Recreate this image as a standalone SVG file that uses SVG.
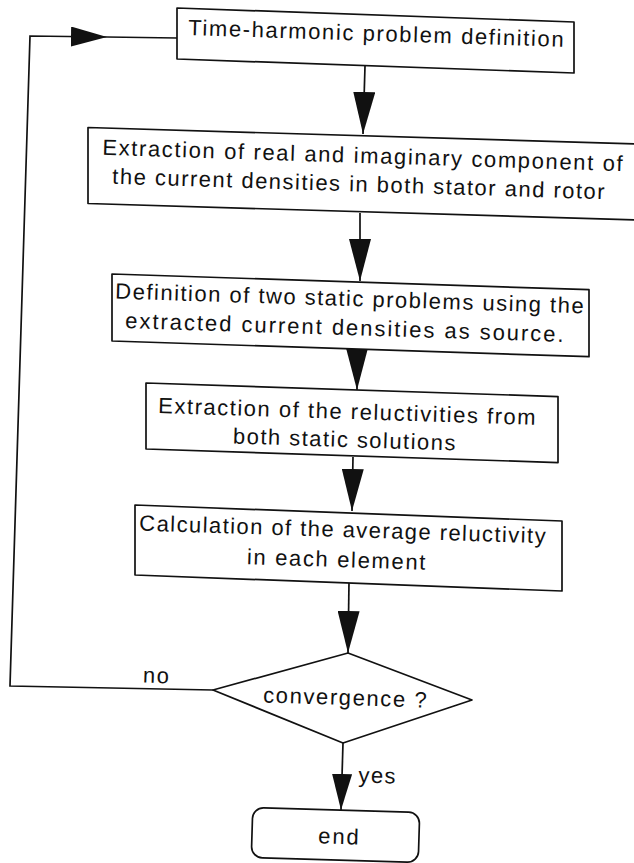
<svg xmlns="http://www.w3.org/2000/svg" width="634" height="863" viewBox="0 0 634 863">
<style>
.box{fill:#fff;stroke:#111;stroke-width:1.7;stroke-linejoin:round}
.ln{fill:none;stroke:#111;stroke-width:1.7}
.t{font-family:"Liberation Sans",Arial,Helvetica,sans-serif;font-size:22px;fill:#111;text-anchor:middle;letter-spacing:1.5px}
</style>
<defs>
<marker id="ah" markerUnits="userSpaceOnUse" markerWidth="42" markerHeight="22" refX="42" refY="11" orient="auto"><path d="M0,0 L42,11 L0,22 z" fill="#111"/></marker>
<marker id="ahs" markerUnits="userSpaceOnUse" markerWidth="36" markerHeight="20" refX="36" refY="10" orient="auto"><path d="M0,0 L36,10 L0,20 z" fill="#111"/></marker>
</defs>
<rect width="634" height="863" fill="#fff"/>
<g id="connectors">
<line class="ln" x1="365" y1="66" x2="363" y2="134" marker-end="url(#ah)"/>
<line class="ln" x1="360" y1="213" x2="360" y2="281" marker-end="url(#ah)"/>
<line class="ln" x1="357" y1="350" x2="357" y2="390" marker-end="url(#ah)"/>
<line class="ln" x1="353" y1="457" x2="352" y2="511" marker-end="url(#ah)"/>
<line class="ln" x1="349" y1="582" x2="348" y2="653" marker-end="url(#ah)"/>
<line class="ln" x1="343" y1="743" x2="341" y2="810" marker-end="url(#ahs)"/>
<path class="ln" d="M213,690 L10,686 L30,36 L107,37" marker-end="url(#ahs)"/>
<line class="ln" x1="107" y1="37" x2="177" y2="38"/>
<text class="t" x="156.5" y="683" transform="rotate(1.8 156.5 683)">no</text>
<text class="t" x="377.5" y="783" transform="rotate(1.8 377.5 783)">yes</text>
</g>
<g id="n1">
<polygon class="box" points="177,8 574,22 574,73 177,59"/>
<text class="t" x="376.5" y="41" textLength="377" lengthAdjust="spacing" transform="rotate(1.8 376.5 41)">Time-harmonic problem definition</text>
</g>
<g id="n2">
<polygon class="box" points="88,127.5 660,144.7 660,220.7 88,203.5"/>
<text class="t" x="363" y="163" textLength="522" lengthAdjust="spacing" transform="rotate(1.8 363 163)">Extraction of real and imaginary component of</text>
<text class="t" x="359" y="191.5" textLength="494" lengthAdjust="spacing" transform="rotate(1.8 359 191.5)">the current densities in both stator and rotor</text>
</g>
<g id="n3">
<polygon class="box" points="112,274 589,289.7 589,356.7 112,341"/>
<text class="t" x="350" y="306" textLength="470" lengthAdjust="spacing" transform="rotate(1.8 350 306)">Definition of two static problems using the</text>
<text class="t" x="345" y="335" textLength="440" lengthAdjust="spacing" transform="rotate(1.8 345 335)">extracted current densities as source.</text>
</g>
<g id="n4">
<polygon class="box" points="146,383 558,396.6 558,462.6 146,449"/>
<text class="t" x="347.5" y="419" textLength="379" lengthAdjust="spacing" transform="rotate(1.8 347.5 419)">Extraction of the reluctivities from</text>
<text class="t" x="344.7" y="447" textLength="224" lengthAdjust="spacing" transform="rotate(1.8 344.7 447)">both static solutions</text>
</g>
<g id="n5">
<polygon class="box" points="135,505 562,521 562,591 135,575"/>
<text class="t" x="343" y="537" textLength="408" lengthAdjust="spacing" transform="rotate(1.8 343 537)">Calculation of the average reluctivity</text>
<text class="t" x="336.7" y="567" textLength="180" lengthAdjust="spacing" transform="rotate(1.8 336.7 567)">in each element</text>
</g>
<g id="n6">
<polygon class="box" points="213,690 348,653 472,700 343,743"/>
<text class="t" x="345.5" y="705" textLength="165" lengthAdjust="spacing" transform="rotate(1.8 345.5 705)">convergence ?</text>
</g>
<g id="n7">
<rect class="box" x="252" y="810" width="167" height="50" rx="11" ry="11" transform="rotate(1.7 335.5 835)"/>
<text class="t" x="339" y="844" textLength="42" lengthAdjust="spacing" transform="rotate(1.8 339 844)">end</text>
</g>
</svg>
